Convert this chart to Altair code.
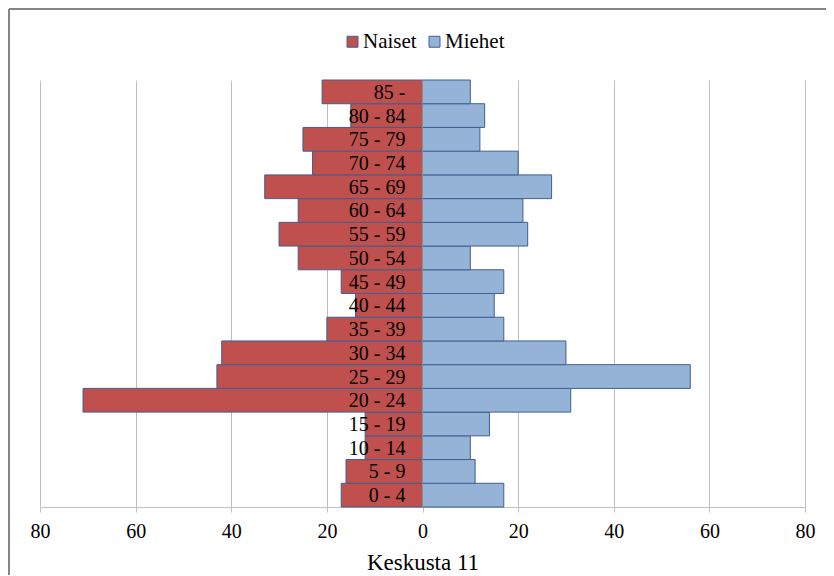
import altair as alt
import pandas as pd

ages = ["0 - 4", "5 - 9", "10 - 14", "15 - 19", "20 - 24", "25 - 29", "30 - 34",
        "35 - 39", "40 - 44", "45 - 49", "50 - 54", "55 - 59", "60 - 64",
        "65 - 69", "70 - 74", "75 - 79", "80 - 84", "85 -"]
naiset = [17, 16, 12, 12, 71, 43, 42, 20, 14, 17, 26, 30, 26, 33, 23, 25, 15, 21]
miehet = [17, 11, 10, 14, 31, 56, 30, 17, 15, 17, 10, 22, 21, 27, 20, 12, 13, 10]
ticks = [-80, -60, -40, -20, 0, 20, 40, 60, 80]

rows = []
for a, n, m in zip(ages, naiset, miehet):
    rows.append({"age": a, "gender": "Naiset", "value": -n})
    rows.append({"age": a, "gender": "Miehet", "value": m})
df = pd.DataFrame(rows)
lab = pd.DataFrame({"age": ages})

FONT = "Liberation Serif"
order = list(reversed(ages))

yenc = alt.Y("age:N", sort=order, axis=None,
             scale=alt.Scale(paddingInner=0, paddingOuter=0))
xscale = alt.Scale(domain=[-80, 80], nice=False, zero=False)

bars = alt.Chart(df).mark_bar(stroke="#3F5F8F", strokeWidth=1).encode(
    x=alt.X("value:Q", scale=xscale,
            axis=alt.Axis(values=ticks, labelExpr="abs(datum.value)",
                          title="Keskusta 11", grid=True, gridColor="#BFBFBF",
                          domainColor="#BFBFBF", tickColor="#BFBFBF", tickSize=5,
                          labelFlush=False, labelOverlap=False,
                          labelFont=FONT, labelFontSize=20, labelColor="#000000",
                          labelPadding=9, titleFont=FONT, titleFontSize=23,
                          titleFontWeight="normal", titleColor="#000000",
                          titlePadding=10)),
    y=yenc,
    color=alt.Color("gender:N",
                    scale=alt.Scale(domain=["Naiset", "Miehet"],
                                    range=["#C0504D", "#95B3D7"]),
                    legend=alt.Legend(title=None, orient="none", legendX=302,
                                      legendY=-49, direction="horizontal",
                                      symbolType="square", symbolSize=120,
                                      symbolStrokeColor="#3F5F8F",
                                      symbolStrokeWidth=1, labelFont=FONT,
                                      labelFontSize=21, labelColor="#000000",
                                      columnPadding=7, labelOffset=0)),
)

zero = alt.Chart(lab).mark_rule(color="#8C8C8C", strokeWidth=1).encode(
    x=alt.datum(0, scale=xscale)
)

texts = alt.Chart(lab).mark_text(align="right", baseline="middle", dx=-17, dy=1,
                                 font=FONT, fontSize=20, color="#000000").encode(
    x=alt.datum(0), y=yenc, text="age:N"
)

frame_left = alt.Chart(lab).mark_rule(color="#868686", strokeWidth=2).encode(
    x=alt.value(-31), y=alt.value(-71), y2=alt.value(520)
)
frame_top = alt.Chart(lab).mark_rule(color="#868686", strokeWidth=2).encode(
    x=alt.value(-31), x2=alt.value(800), y=alt.value(-71)
)

chart = alt.layer(bars, zero, texts, frame_left, frame_top).properties(
    width=765, height=427,
    autosize=alt.AutoSizeParams(type="none"),
    padding={"left": 32, "top": 72, "right": 21, "bottom": 68},
).configure_view(stroke=None)

chart.save("out.html", embed_options={"renderer": "svg", "actions": False})
